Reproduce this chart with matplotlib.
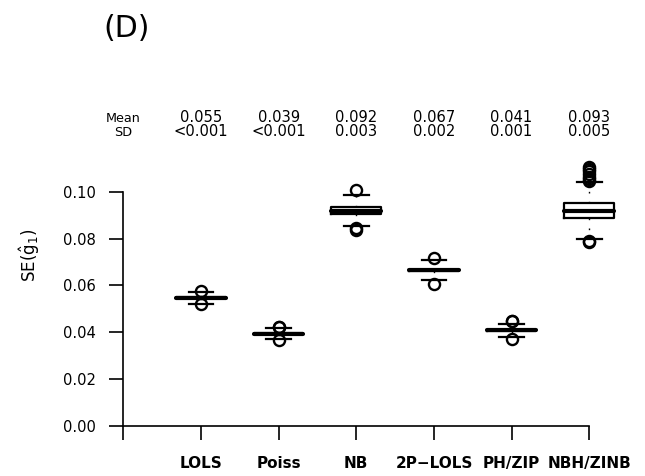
import matplotlib
matplotlib.use("Agg")
import matplotlib.pyplot as plt
import matplotlib.transforms as mtransforms

plt.rcParams['font.family'] = ['DejaVu Sans']
plt.rcParams['mathtext.fontset'] = 'dejavusans'

# data
labels = ['LOLS', 'Poiss', 'NB', '2P\u2212LOLS', 'PH/ZIP', 'NBH/ZINB']
med = [0.0548, 0.0393, 0.0919, 0.0665, 0.0407, 0.0920]
q1 = [0.0545, 0.0390, 0.0904, 0.0662, 0.0404, 0.0890]
q3 = [0.0551, 0.0396, 0.0934, 0.0668, 0.0410, 0.0953]
whislo = [0.0522, 0.0369, 0.0855, 0.0622, 0.0378, 0.0800]
whishi = [0.0572, 0.0417, 0.0986, 0.0708, 0.0435, 0.1042]
fliers = [
    [0.0576, 0.0520],
    [0.0421, 0.0423, 0.0367],
    [0.1007, 0.0845, 0.0838],
    [0.0717, 0.0607],
    [0.0449, 0.0446, 0.0372],
    [0.1047, 0.1055, 0.1065, 0.1075, 0.1090, 0.1100, 0.1106, 0.0788, 0.0792],
]
mean_txt = ['0.055', '0.039', '0.092', '0.067', '0.041', '0.093']
sd_txt = ['<0.001', '<0.001', '0.003', '0.002', '0.001', '0.005']

W, H = 645, 476
fig = plt.figure(figsize=(W / 100, H / 100), dpi=100)
ax = fig.add_axes([110 / W, 1 - 425.5 / H, 520 / W, (425.5 - 155) / H])

stats = []
for i in range(len(labels)):
    stats.append({'med': med[i], 'q1': q1[i], 'q3': q3[i],
                  'whislo': whislo[i], 'whishi': whishi[i],
                  'fliers': fliers[i], 'label': labels[i]})

positions = list(range(1, len(labels) + 1))
ax.bxp(stats, positions=positions, widths=0.64, capwidths=0.32,
       showfliers=True,
       boxprops=dict(color='black', linewidth=1.6),
       medianprops=dict(color='black', linewidth=3.0, solid_capstyle='round'),
       whiskerprops=dict(color='black', linewidth=1.0, linestyle=(0, (1.2, 6))),
       capprops=dict(color='black', linewidth=1.6),
       flierprops=dict(marker='o', markerfacecolor='none', markeredgecolor='black',
                       markersize=8, markeredgewidth=1.7))

ax.set_xlim((110 - 123.3) / 77.66, (630 - 123.3) / 77.66)
ax.set_ylim(0, (425.5 - 155) / 2335)

for s in ['top', 'right']:
    ax.spines[s].set_visible(False)
ax.spines['left'].set_position(('data', 0))
ax.spines['left'].set_bounds(0, 0.10)
ax.spines['bottom'].set_bounds(0, 6)
for s in ['left', 'bottom']:
    ax.spines[s].set_linewidth(1.2)

ax.set_yticks([0.00, 0.02, 0.04, 0.06, 0.08, 0.10])
ax.set_yticklabels(['0.00', '0.02', '0.04', '0.06', '0.08', '0.10'], fontsize=10.6)
ax.set_xticks([0] + positions)
ax.set_xticklabels([''] + labels, fontsize=11, fontweight='bold')
ax.tick_params(axis='both', direction='out', length=10, width=1.2)
ax.tick_params(axis='y', pad=10)
ax.tick_params(axis='x', pad=12)

# header with mean / sd, one column per box
trans = mtransforms.blended_transform_factory(ax.transData, fig.transFigure)
ax.text(0, 1 - 121.7 / H, 'Mean', transform=trans, ha='center', va='baseline', fontsize=9.2)
ax.text(0, 1 - 135.5 / H, 'SD', transform=trans, ha='center', va='baseline', fontsize=9.2)
for i in range(len(labels)):
    ax.text(positions[i], 1 - 121.7 / H, mean_txt[i], transform=trans,
            ha='center', va='baseline', fontsize=10.6)
    ax.text(positions[i], 1 - 135.5 / H, sd_txt[i], transform=trans,
            ha='center', va='baseline', fontsize=10.6)

fig.text(103 / W, 1 - 37 / H, '(D)', ha='left', va='baseline', fontsize=21.5)
fig.text(30 / W, 1 - 255 / H, r'SE($\hat{\mathrm{g}}_1$)', ha='center', va='center',
         rotation=90, fontsize=12)

fig.savefig('out.png', dpi=100)
